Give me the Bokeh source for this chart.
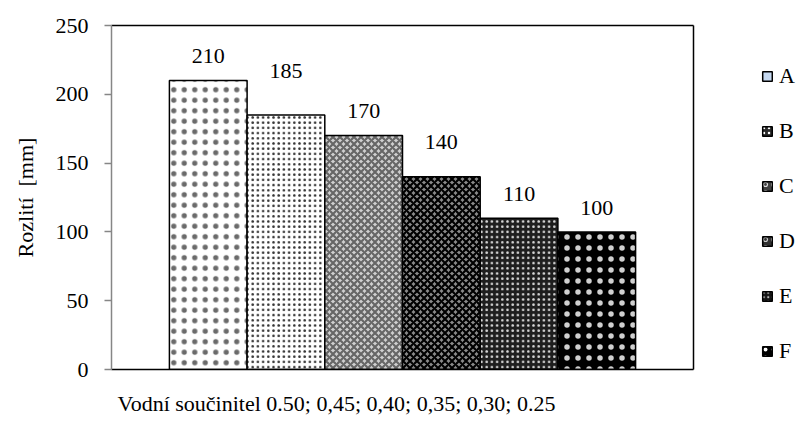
from bokeh.plotting import figure
from bokeh.layouts import row
from bokeh.models import Range1d, Legend, LegendItem, FixedTicker, LinearAxis
from bokeh.embed import file_html
from bokeh.resources import INLINE
from bokeh.core.properties import value

# ---- data ----
series = ["A", "B", "C", "D", "E", "F"]
values = [210, 185, 170, 140, 110, 100]
y_ticks = [0, 50, 100, 150, 200, 250]
x_title = "Vodní součinitel 0.50; 0,45; 0,40; 0,35; 0,30; 0.25"
y_title = "Rozlití\u00a0 [mm]"

# ---- styles ----
FONT = "Liberation Serif"
FS = "22px"
bar_fill = ["white", "white", "#cfcfcf", "#8a8a8a", "#1e1e1e", "black"]
bar_hatch = ["dot", "dot", "diagonal_cross", "diagonal_cross", "dot", "dot"]
bar_hatch_color = ["#6a6a6a", "#333333", "#666666", "black", "#d8d8d8", "#d0d0d0"]
bar_hatch_scale = [10.5, 5.2, 7, 7, 5.2, 11]
bar_hatch_weight = [0.3, 1.1, 2.2, 2.2, 1.3, 0.3]
leg_fill = ["#c6d9f1", "#2a2a2a", "#404040", "#303030", "#151515", "black"]
leg_hatch = [None, "dot", "ring", "ring", "dot", "dot"]
leg_hatch_color = [None, "white", "#dddddd", "#cccccc", "#bbbbbb", "white"]
leg_hatch_scale = [1, 5, 8, 8, 4.5, 8]
label_dy = [25, 44, 25, 35, 24, 24]
# trailing no-break spaces shift the centred axis title to the left, as in the reference
x_title_pad = "\u00a0" * 24

p = figure(width=700, height=423, output_backend="svg", toolbar_location=None,
           x_range=Range1d(0, 1), y_range=Range1d(0, 250),
           min_border_left=111, min_border_right=7,
           min_border_top=25, min_border_bottom=54)
p.background_fill_color = "white"
p.border_fill_color = "white"
p.outline_line_color = None
p.grid.visible = False

xa = p.xaxis[0]
xa.ticker = FixedTicker(ticks=[])
xa.major_tick_out = 0
xa.major_tick_in = 0
xa.minor_tick_out = 0
xa.minor_tick_in = 0
xa.major_label_standoff = 0
xa.axis_line_color = "black"
xa.axis_line_width = 1.5
xa.axis_label = x_title + x_title_pad
xa.axis_label_text_font = FONT
xa.axis_label_text_font_size = FS
xa.axis_label_text_font_style = "normal"
xa.axis_label_text_color = "black"
xa.axis_label_standoff = 21

ya = p.yaxis[0]
ya.ticker = FixedTicker(ticks=y_ticks)
ya.axis_line_color = "#868686"
ya.axis_line_width = 1.5
ya.major_tick_line_color = "#868686"
ya.major_tick_line_width = 1.5
ya.major_tick_out = 7
ya.major_tick_in = 0
ya.minor_tick_out = 0
ya.minor_tick_in = 0
ya.major_label_text_font = FONT
ya.major_label_text_font_size = FS
ya.major_label_text_color = "black"
ya.major_label_standoff = 16
ya.axis_label = y_title
ya.axis_label_text_font = FONT
ya.axis_label_text_font_size = FS
ya.axis_label_text_font_style = "normal"
ya.axis_label_text_color = "black"
ya.axis_label_standoff = 15

# plain black border lines on top and right of the plot area
for side in ("above", "right"):
    ax = LinearAxis(ticker=FixedTicker(ticks=[]), axis_line_color="black",
                    axis_line_width=1.5, major_tick_out=0, major_tick_in=0,
                    minor_tick_out=0, minor_tick_in=0, major_label_standoff=0)
    p.add_layout(ax, side)

n = len(series)
bw = 0.1335
xs = [0.5 + (i - (n - 1) / 2) * bw for i in range(n)]

for i in range(n):
    p.vbar(x=[xs[i]], top=[values[i]], bottom=0, width=bw,
           fill_color=bar_fill[i], line_color="black", line_width=1.5,
           hatch_pattern=bar_hatch[i], hatch_color=bar_hatch_color[i],
           hatch_scale=bar_hatch_scale[i], hatch_weight=bar_hatch_weight[i])

p.text(x=xs, y=values, text=[str(v) for v in values],
       y_offset=[-d for d in label_dy], text_align="center", text_baseline="middle",
       text_font=value(FONT), text_font_size=FS, text_color="black")

# ---- legend panel (separate figure to the right) ----
lf = figure(width=100, height=423, output_backend="svg", toolbar_location=None,
            x_axis_type=None, y_axis_type=None, x_range=Range1d(0, 1),
            y_range=Range1d(0, 250), min_border=0)
lf.outline_line_color = None
lf.grid.visible = False
lf.background_fill_color = "white"
lf.border_fill_color = "white"

items = []
for i in range(n):
    kw = dict(fill_color=leg_fill[i], line_color="black", line_width=1.5)
    if leg_hatch[i] is not None:
        kw.update(hatch_pattern=leg_hatch[i], hatch_color=leg_hatch_color[i],
                  hatch_scale=leg_hatch_scale[i], hatch_weight=1.1)
    r = lf.vbar(x=[xs[i]], top=[values[i]], width=bw, visible=False, **kw)
    items.append(LegendItem(label=series[i], renderers=[r]))

legend = Legend(items=items, location=(61, 5), orientation="vertical",
                glyph_width=12, glyph_height=12, label_height=20, spacing=29,
                label_standoff=6, padding=0, margin=0,
                border_line_color=None, background_fill_alpha=0,
                inactive_fill_alpha=0,
                label_text_font=FONT, label_text_font_size=FS,
                label_text_color="black")
lf.add_layout(legend)

layout = row(p, lf, spacing=0)
open("out.html", "w").write(file_html(layout, INLINE))
